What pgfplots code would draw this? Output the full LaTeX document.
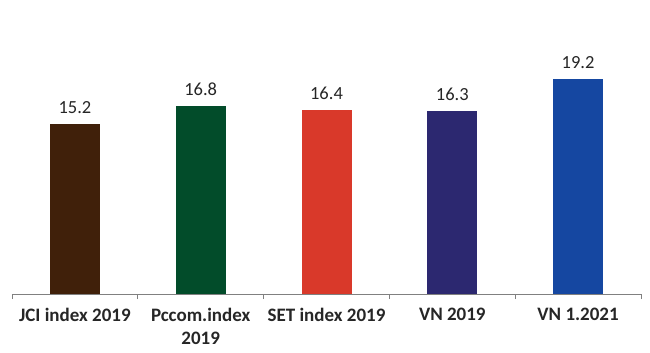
\documentclass[border=0pt]{standalone}
\usepackage{pgfplots}
\pgfplotsset{compat=1.18}
\usepackage{fontspec}
\setmainfont{Carlito}
\definecolor{cbrown}{HTML}{40200A}
\definecolor{cgreen}{HTML}{024C2A}
\definecolor{cred}{HTML}{D9392A}
\definecolor{cnavy}{HTML}{2C2870}
\definecolor{cblue}{HTML}{1547A1}
\definecolor{axgray}{HTML}{808080}
\begin{document}
\begin{tikzpicture}[x=1pt,y=1pt]
\useasboundingbox (0,0) rectangle (650,353);
\begin{axis}[
  at={(12pt,59pt)}, anchor=south west,
  scale only axis, width=629pt, height=246.4pt,
  xmin=-0.5, xmax=4.5, ymin=0, ymax=22,
  axis x line=bottom, axis y line=none,
  x axis line style={draw=axgray, line width=0.8pt, -},
  ybar, bar width=50pt,
  xtick={0,1,2,3,4},
  xticklabels={JCI index 2019, Pccom.index\\2019, SET index 2019, VN 2019, VN 1.2021},
  xticklabel style={font=\fontsize{19}{23}\selectfont\bfseries, align=center, text=black!85, anchor=north, yshift=-11pt},
  major tick length=0pt,
  minor xtick={-0.5,0.5,1.5,2.5,3.5,4.5},
  minor tick length=5pt,
  tick style={draw=axgray, line width=0.8pt},
  tick align=outside,
  nodes near coords,
  nodes near coords style={font=\fontsize{18.5}{22}\selectfont, text=black!85, anchor=south, yshift=7pt, /pgf/number format/fixed, /pgf/number format/precision=1, /pgf/number format/fixed zerofill},
  every node near coord/.append style={/pgf/number format/assume math mode=true},
  clip=false,
]
\addplot[fill=cbrown, draw=none, bar shift=0pt] coordinates {(0,15.2)};
\addplot[fill=cgreen, draw=none, bar shift=0pt] coordinates {(1,16.8)};
\addplot[fill=cred, draw=none, bar shift=0pt] coordinates {(2,16.4)};
\addplot[fill=cnavy, draw=none, bar shift=0pt] coordinates {(3,16.3)};
\addplot[fill=cblue, draw=none, bar shift=0pt] coordinates {(4,19.2)};
\end{axis}
\end{tikzpicture}
\end{document}
